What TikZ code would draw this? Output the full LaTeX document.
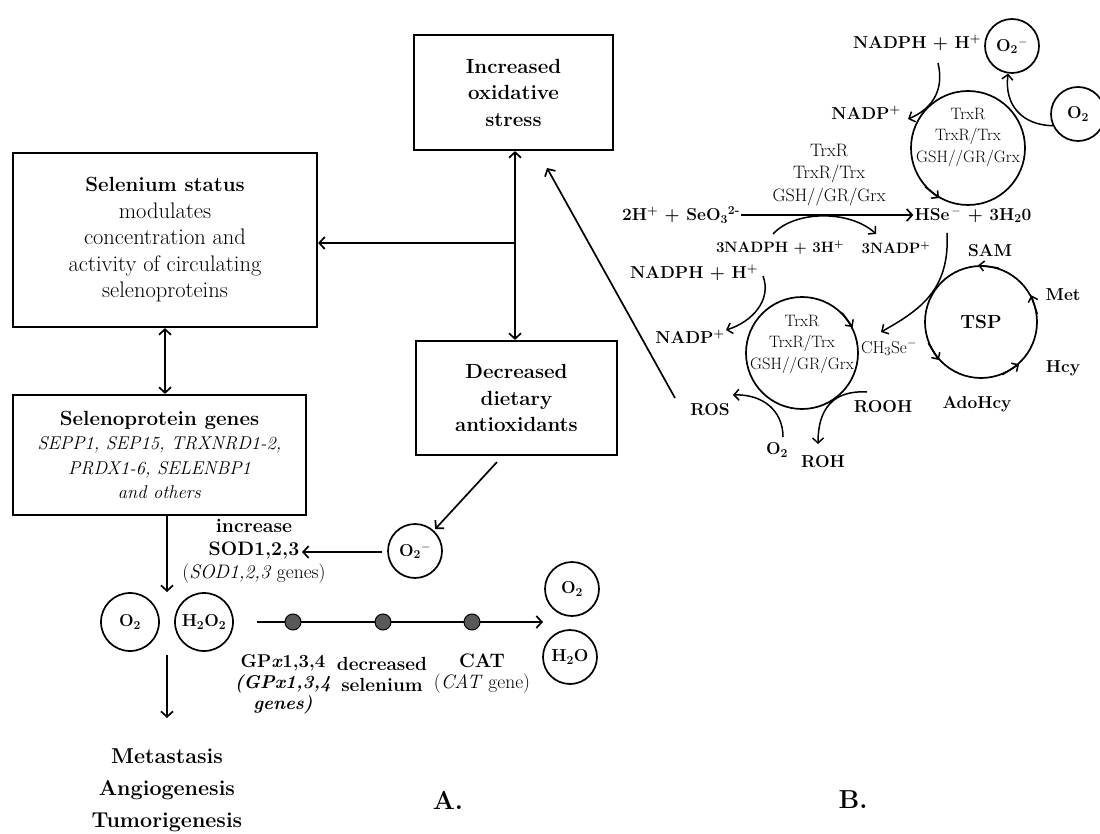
\documentclass[tikz,border=0pt]{standalone}
\usepackage{fontspec}
\usetikzlibrary{arrows.meta}
\newcommand\szR{\fontsize{22.5}{26.5}\selectfont}
\newcommand\szBold{\fontsize{20.5}{26.5}\selectfont\bfseries}
\newcommand\bsz[1]{{\fontsize{20.5}{26.5}\selectfont\bfseries #1}}
\newcommand\szB{\fontsize{17.3}{21.5}\selectfont}
\newcommand\szC{\fontsize{16.5}{21.5}\selectfont}
\newcommand\szE{\fontsize{18}{22.5}\selectfont}
\newcommand\szD{\fontsize{21.5}{32}\selectfont}
\begin{document}
\begin{tikzpicture}[x=1pt,y=-1pt,
  box/.style={draw,line width=2.2pt,align=center,inner sep=0pt},
  circ/.style={draw,circle,line width=1.7pt,inner sep=0pt,minimum size=54pt,font=\szB\bfseries},
  lab/.style={align=center,inner sep=1pt,font=\szB\bfseries},
  arr/.style={line width=1.7pt,-{Straight Barb[length=5.5pt,width=12pt]}},
  darr/.style={line width=1.7pt,{Straight Barb[length=5.5pt,width=12pt]}-{Straight Barb[length=5.5pt,width=12pt]}},
  carr/.style={line width=1.5pt,-{Straight Barb[length=5pt,width=11pt]}},
  tip/.style={line width=1.5pt,-{Straight Barb[length=5pt,width=10pt]}},
  dotn/.style={draw,circle,fill=black!65,line width=1pt,minimum size=16pt,inner sep=0pt}]
\useasboundingbox (0,0) rectangle (1100,834);
\fill[white] (0,0) rectangle (1100,834);

% ---------- panel A ----------
\node[box,minimum width=199pt,minimum height=115pt,font=\szBold] (inc) at (513.5,92.5) {Increased\\oxidative\\stress};
\node[box,minimum width=304pt,minimum height=174pt,font=\szR] (sel) at (165,240)
  {\bsz{Selenium status}\\modulates\\concentration and\\activity of circulating\\selenoproteins};
\node[box,minimum width=201pt,minimum height=114pt,font=\szBold] (dec) at (516.5,398) {Decreased\\dietary\\antioxidants};
\node[box,minimum width=293pt,minimum height=120pt,font=\fontsize{18.5}{24.5}\selectfont] (gen) at (159.5,455)
  {\bsz{Selenoprotein genes}\\\textit{SEPP1, SEP15, TRXNRD1-2,}\\\textit{PRDX1-6, SELENBP1}\\\textit{and others}};

\coordinate (j) at (515,243);
\draw[arr] (j) -- (inc.south -| j);
\draw[arr] (j) -- (dec.north -| j);
\draw[arr] (j) -- (sel.east |- j);
\draw[darr] (sel.south) -- (gen.north -| sel.south);

\node[circ] (o2m) at (415,551) {O\textsubscript{2}\textsuperscript{$-$}};
\coordinate (ds) at (497,462);
\draw[arr,shorten >=2pt] (ds) -- (o2m);
\coordinate (sodtip) at (302,552);
\draw[arr,shorten <=5pt] (o2m.west |- sodtip) -- (sodtip);
\node[align=center,inner sep=0pt,font=\fontsize{19.5}{23}\selectfont] (sod) at (254,551)
  {\textbf{increase}\\\textbf{SOD1,2,3}\\(\textit{SOD1,2,3} genes)};

\coordinate (gtip) at (167,592);
\draw[arr] (gen.south -| gtip) -- (gtip);

\node[circ,minimum size=58pt] (o2a) at (130,622) {O\textsubscript{2}};
\node[circ,minimum size=58pt] (h2o2) at (204,622) {H\textsubscript{2}O\textsubscript{2}};

\coordinate (ms) at (167,655);
\coordinate (me) at (167,718);
\draw[arr] (ms) -- (me);
\node[align=center,inner sep=0pt,font=\szD\bfseries] (meta) at (167,790) {Metastasis\\Angiogenesis\\Tumorigenesis};

\coordinate (cs) at (257,622);
\coordinate (ce) at (543,622);
\draw[arr] (cs) -- (ce);
\node[dotn] (d1) at (293,622) {};
\node[dotn] (d2) at (383,622) {};
\node[dotn] (d3) at (472,622) {};
\node[circ] (o2b) at (572,589) {O\textsubscript{2}};
\node[circ] (h2o) at (570,657) {H\textsubscript{2}O};

\node[align=center,inner sep=0pt,font=\fontsize{18.5}{21}\selectfont] (gpx) at (283,684)
  {\textbf{GP\textit{x}1,3,4}\\\textbf{\textit{(GPx1,3,4}}\\\textbf{\textit{genes)}}};
\node[align=center,inner sep=0pt,font=\fontsize{19}{21}\selectfont\bfseries] (dsel) at (382,674) {decreased\\selenium};
\node[align=center,inner sep=0pt,font=\fontsize{19.5}{21}\selectfont] (cat) at (482,674) {\textbf{CAT}\\(\textit{CAT} gene)};

\node[font=\fontsize{26}{30}\selectfont\bfseries] (la) at (448,800) {A.};
\node[font=\fontsize{26}{30}\selectfont\bfseries] (lb) at (853,800) {B.};

% ---------- panel B ----------
\coordinate (rs) at (675,398);
\coordinate (rt) at (547,168);
\draw[arr] (rs) -- (rt);

\node[lab] (se) at (681,215) {2H\textsuperscript{+} + SeO\textsubscript{3}\textsuperscript{2-}};
\node[lab] (hse) at (973,215) {HSe\textsuperscript{\,$-$} + 3H\textsubscript{2}0};
\draw[arr] (se.east) -- (hse.west);
\node[align=center,inner sep=0pt,font=\szE] (enz) at (829,175) {TrxR\\TrxR/Trx\\GSH//GR/Grx};

\coordinate (c1s) at (773,234);
\coordinate (c1e) at (876,234);
\draw[carr] (c1s) .. controls (795,210) and (850,210) .. (c1e);
\node[lab,font=\fontsize{15}{18}\selectfont\bfseries] (nadph3) at (780,248) {3NADPH + 3H\textsuperscript{+}};
\node[lab,font=\fontsize{15}{18}\selectfont\bfseries] (nadp3) at (896,248) {3NADP\textsuperscript{+}};

% top cycle
\node[circ,minimum size=114pt] (tc) at (968,148) {};
\node[align=center,inner sep=0pt,font=\szC] (tct) at (968,137) {TrxR\\TrxR/Trx\\GSH//GR/Grx};
\draw[tip] (tc.222) -- (tc.240);
\node[lab] (nadph1) at (917,43) {NADPH + H\textsuperscript{+}};
\node[lab] (nadp1) at (866,113) {NADP\textsuperscript{+}};
\coordinate (n1s) at (938,63);
\coordinate (n1e) at (908,119);
\draw[carr] (n1s) .. controls (945,92) and (930,110) .. (n1e);
\node[circ] (o2m1) at (1012,46) {O\textsubscript{2}\textsuperscript{$-$}};
\node[circ] (o2t) at (1078,114) {O\textsubscript{2}};
\draw[carr] (o2t.205) .. controls (1022,125) and (1004,105) .. (o2m1.262);

% lower cycle
\node[circ,minimum size=112pt] (bc) at (802,353) {};
\node[align=center,inner sep=0pt,font=\szC] (bct) at (802,344) {TrxR\\TrxR/Trx\\GSH//GR/Grx};
\draw[tip] (bc.45) -- (bc.27);
\node[lab] (nadph2) at (694,273) {NADPH + H\textsuperscript{+}};
\node[lab] (nadp2) at (690,337) {NADP\textsuperscript{+}};
\coordinate (n2s) at (763,276);
\coordinate (n2e) at (726,330);
\draw[carr] (n2s) .. controls (772,300) and (752,322) .. (n2e);

\node[inner sep=1pt,font=\fontsize{17.3}{20}\selectfont] (ch3) at (889,348) {CH\textsubscript{3}Se\textsuperscript{$-$}};
\coordinate (h1s) at (947,233);
\coordinate (h1e) at (881,332);
\draw[carr] (h1s) .. controls (950,290) and (920,310) .. (h1e);

\node[lab] (ros) at (710,410) {ROS};
\node[lab] (o2l) at (777,450) {O\textsubscript{2}};
\coordinate (r1s) at (783,437);
\coordinate (r1e) at (733,395);
\draw[carr] (r1s) .. controls (783,410) and (762,394) .. (r1e);
\node[lab] (rooh) at (883,407) {ROOH};
\node[lab] (roh) at (823,462) {ROH};
\coordinate (r2s) at (867,392);
\coordinate (r2e) at (818,444);
\draw[carr] (r2s) .. controls (832,390) and (818,410) .. (r2e);

% TSP cycle
\node[circ,minimum size=112pt,font=\fontsize{19}{22}\selectfont\bfseries] (tsp) at (981,322) {TSP};
\draw[tip] (tsp.72) -- (tsp.93);
\draw[tip] (tsp.8) -- (tsp.28);
\draw[tip] (tsp.292) -- (tsp.312);
\draw[tip] (tsp.202) -- (tsp.222);
\node[lab] (sam) at (990,251) {SAM};
\node[lab] (met) at (1063,295) {Met};
\node[lab] (hcy) at (1063,368) {Hcy};
\node[lab] (ado) at (977,404) {AdoHcy};
\end{tikzpicture}
\end{document}
